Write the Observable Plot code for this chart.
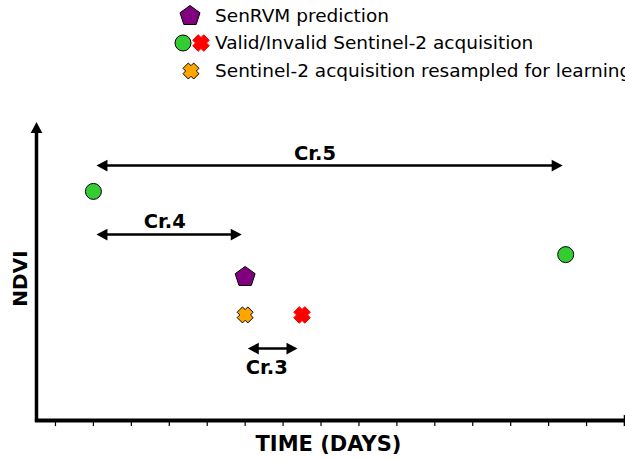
<!DOCTYPE html>
<html>
<head>
<meta charset="utf-8">
<script src="https://cdn.jsdelivr.net/npm/d3@7"></script>
<script src="https://cdn.jsdelivr.net/npm/@observablehq/plot@0.6"></script>
<style>
  html, body { margin: 0; padding: 0; background: #fff; }
  body { width: 625px; height: 459px; overflow: hidden; font-family: "DejaVu Sans", sans-serif; color: #000; }
  #legend { position: relative; height: 95px; width: 625px; }
  .mk { position: absolute; }
  .lt { position: absolute; left: 215px; font-size: 18.5px; line-height: 28px; height: 28px; white-space: nowrap; }
  #chart svg { display: block; }
</style>
</head>
<body>
<div id="legend"></div>
<div id="chart"></div>
<script>
// ---------- data ----------
const dayTicks = [0, 1, 2, 3, 4, 5, 6, 7, 8, 9, 10, 11, 12, 13, 14, 15];

const validTime = [1, 13.45];
const validNdvi = [0.79, 0.572];

const invalidTime = [6.5];
const invalidNdvi = [0.364];

const predictionTime = [5];
const predictionNdvi = [0.495];

const resampledTime = [5];
const resampledNdvi = [0.364];

const criterionLabels = ["Cr.5", "Cr.4", "Cr.3"];
const criterionStart = [1.08, 1.08, 5.07];
const criterionEnd = [13.37, 4.91, 6.38];
const criterionLevel = [0.879, 0.641, 0.248];
const criterionLabelTime = [6.84, 2.88, 5.57];
const criterionLabelLevel = [0.921, 0.686, 0.183];

const legendLabels = [
  "SenRVM prediction",
  "Valid/Invalid Sentinel-2 acquisition",
  "Sentinel-2 acquisition resampled for learning"
];

// ---------- custom symbols ----------
const pentagon = {
  draw(ctx, size) {
    const R = Math.sqrt(size / Math.PI);
    for (let k = 0; k < 5; ++k) {
      const a = -Math.PI / 2 + k * 2 * Math.PI / 5;
      const px = R * Math.cos(a), py = R * Math.sin(a);
      if (k === 0) ctx.moveTo(px, py); else ctx.lineTo(px, py);
    }
    ctx.closePath();
  }
};
const filledX = {
  draw(ctx, size) {
    const r = Math.sqrt(size / Math.PI);
    const u = r / (3 / Math.SQRT2);
    const pts = [[-1,-2],[-1,-1],[-2,-1],[-2,1],[-1,1],[-1,2],[1,2],[1,1],[2,1],[2,-1],[1,-1],[1,-2]];
    pts.forEach(([a, b], i) => {
      const px = (a - b) / Math.SQRT2 * u, py = (a + b) / Math.SQRT2 * u;
      if (i === 0) ctx.moveTo(px, py); else ctx.lineTo(px, py);
    });
    ctx.closePath();
  }
};
function head(dir) {
  return {
    draw(ctx, size) {
      const L = 11, W = 5.8;
      const t = ([a, b]) => dir === "right" ? [a, b] : dir === "left" ? [-a, b] : [b, -a];
      const p = [[0, 0], [-L, -W], [-L, W]].map(t);
      ctx.moveTo(p[0][0], p[0][1]);
      ctx.lineTo(p[1][0], p[1][1]);
      ctx.lineTo(p[2][0], p[2][1]);
      ctx.closePath();
    }
  };
}
const headRight = head("right"), headLeft = head("left"), headUp = head("up");

const GREEN = "#33cc33", PURPLE = "#800080", ORANGE = "#ffa500", RED = "#ff0000";

// ---------- legend (HTML above the plot) ----------
const legend = d3.select("#legend");
function legendMarker(cx, cy, symbol, r, fill, stroke) {
  const s = legend.append("svg").attr("class", "mk")
    .attr("width", 24).attr("height", 24)
    .style("left", (cx - 12) + "px").style("top", (cy - 12) + "px");
  s.append("path")
    .attr("transform", "translate(12,12)")
    .attr("d", d3.symbol(symbol, r * r * Math.PI)())
    .attr("fill", fill).attr("stroke", stroke).attr("stroke-width", 1);
}
const rowY = [16, 43, 71];
legendMarker(190, rowY[0], pentagon, 10.5, PURPLE, "#000");
legendMarker(182.5, rowY[1], d3.symbolCircle, 8, GREEN, "#000");
legendMarker(200.5, rowY[1], filledX, 8.3, RED, RED);
legendMarker(190.5, rowY[2], filledX, 8, ORANGE, "#000");
legendLabels.forEach((t, i) => {
  legend.append("div").attr("class", "lt").style("top", (rowY[i] - 14) + "px").text(t);
});

// ---------- plot ----------
const criteria = criterionLabels.map((label, i) => ({
  label, start: criterionStart[i], end: criterionEnd[i], level: criterionLevel[i],
  lx: criterionLabelTime[i], ly: criterionLabelLevel[i]
}));
const zip = (xs, ys) => xs.map((x, i) => ({time: x, ndvi: ys[i]}));
const valid = zip(validTime, validNdvi);
const invalid = zip(invalidTime, invalidNdvi);
const prediction = zip(predictionTime, predictionNdvi);
const resampled = zip(resampledTime, resampledNdvi);

const xMin = -0.5, yTop = 1.029, xRightTip = 15.27;
const FONT = "DejaVu Sans";

const chart = Plot.plot({
  width: 625,
  height: 364,
  marginTop: 35,
  marginBottom: 39,
  marginLeft: 36,
  marginRight: 1,
  x: {domain: [xMin, 15], axis: null},
  y: {domain: [0, 1], axis: null},
  style: {background: "white", fontFamily: FONT, color: "black"},
  marks: [
    // tick marks below the time axis
    Plot.ruleX(dayTicks, {x: d => d, y1: 0, y2: -0.021, stroke: "black", strokeWidth: 1.2}),
    // axes
    Plot.ruleY([0], {x1: xMin - 0.03, x2: xRightTip - 0.2, stroke: "black", strokeWidth: 4}),
    Plot.ruleX([xMin], {y1: -0.006, y2: yTop - 0.03, stroke: "black", strokeWidth: 3.5}),
    Plot.dot([{time: xMin, ndvi: yTop}], {x: "time", y: "ndvi", symbol: headUp, r: 5, fill: "black"}),
    Plot.dot([{time: xRightTip, ndvi: 0}], {x: "time", y: "ndvi", symbol: headRight, r: 5, fill: "black"}),
    // criterion arrows
    Plot.ruleY(criteria, {y: "level", x1: "start", x2: "end", stroke: "black", strokeWidth: 2.5, insetLeft: 4, insetRight: 4}),
    Plot.dot(criteria, {x: "start", y: "level", symbol: headLeft, r: 5, fill: "black"}),
    Plot.dot(criteria, {x: "end", y: "level", symbol: headRight, r: 5, fill: "black"}),
    Plot.text(criteria, {x: "lx", y: "ly", text: "label", fontSize: 19.5, fontWeight: "bold", fontFamily: FONT, fill: "black"}),
    // observations
    Plot.dot(valid, {x: "time", y: "ndvi", r: 8, fill: GREEN, stroke: "black", strokeWidth: 1}),
    Plot.dot(prediction, {x: "time", y: "ndvi", symbol: pentagon, r: 10.5, fill: PURPLE, stroke: "black", strokeWidth: 1}),
    Plot.dot(resampled, {x: "time", y: "ndvi", symbol: filledX, r: 8, fill: ORANGE, stroke: "black", strokeWidth: 1}),
    Plot.dot(invalid, {x: "time", y: "ndvi", symbol: filledX, r: 8.3, fill: RED, stroke: RED, strokeWidth: 1}),
    // axis titles
    Plot.text(["TIME (DAYS)"], {frameAnchor: "bottom", dx: -2, dy: 24, text: d => d, fontSize: 21, fontWeight: "bold", fontFamily: FONT, fill: "black", lineAnchor: "middle"}),
    Plot.text(["NDVI"], {frameAnchor: "left", dx: -16, dy: 3, rotate: -90, textAnchor: "middle", text: d => d, fontSize: 20, fontWeight: "bold", fontFamily: FONT, fill: "black"})
  ]
});
document.getElementById("chart").appendChild(chart);
</script>
</body>
</html>
